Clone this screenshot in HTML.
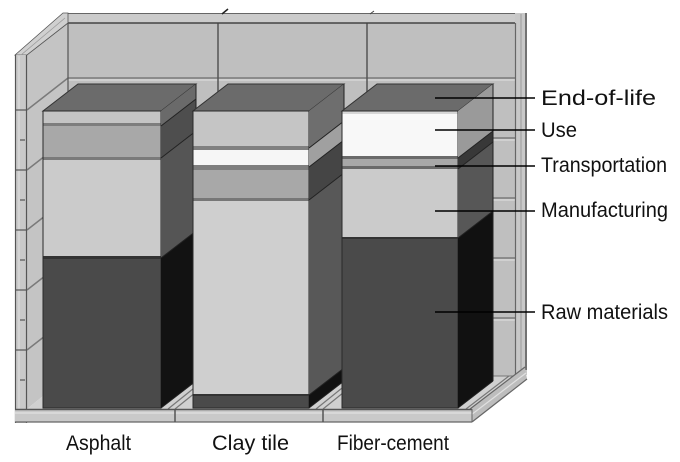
<!DOCTYPE html>
<html>
<head>
<meta charset="utf-8">
<style>
  html, body { margin: 0; padding: 0; background: #ffffff; }
  svg { display: block; }
  text { font-family: "Liberation Sans", "DejaVu Sans", sans-serif; font-size: 21px; fill: #111; }
</style>
</head>
<body>
<svg width="680" height="462" viewBox="0 0 680 462" xmlns="http://www.w3.org/2000/svg">
  <rect width="680" height="462" fill="#ffffff"/>

  <!-- Back wall face -->
  <rect x="68" y="23" width="447" height="353" fill="#bfbfbf"/>
  <g stroke-width="1.5">
    <line x1="68" y1="78" x2="515" y2="78" stroke="#7a7a7a"/>
    <line x1="68" y1="80" x2="515" y2="80" stroke="#d6d6d6"/>
    <line x1="68" y1="138" x2="515" y2="138" stroke="#7a7a7a"/>
    <line x1="68" y1="140" x2="515" y2="140" stroke="#d6d6d6"/>
    <line x1="68" y1="198" x2="515" y2="198" stroke="#7a7a7a"/>
    <line x1="68" y1="200" x2="515" y2="200" stroke="#d6d6d6"/>
    <line x1="68" y1="258" x2="515" y2="258" stroke="#7a7a7a"/>
    <line x1="68" y1="260" x2="515" y2="260" stroke="#d6d6d6"/>
    <line x1="68" y1="318" x2="515" y2="318" stroke="#7a7a7a"/>
    <line x1="68" y1="320" x2="515" y2="320" stroke="#d6d6d6"/>
  </g>
  <line x1="218" y1="13" x2="218" y2="376" stroke="#555" stroke-width="1.5"/>
  <line x1="367" y1="13" x2="367" y2="376" stroke="#555" stroke-width="1.5"/>

  <!-- Back wall top strip -->
  <rect x="63" y="13" width="464" height="10" fill="#cbcbcb"/>
  <line x1="63" y1="13.5" x2="527" y2="13.5" stroke="#666" stroke-width="1"/>
  <line x1="68" y1="23" x2="515" y2="23" stroke="#444" stroke-width="1.5"/>
  <line x1="222" y1="14" x2="228" y2="9" stroke="#222" stroke-width="1.5"/>
  <line x1="370" y1="14" x2="374" y2="11" stroke="#444" stroke-width="1"/>

  <!-- Back wall right strip -->
  <rect x="515" y="13" width="12" height="362" fill="#c8c8c8"/>
  <line x1="515.5" y1="23" x2="515.5" y2="376" stroke="#666" stroke-width="1.2"/>
  <line x1="521" y1="14" x2="521" y2="372" stroke="#9a9a9a" stroke-width="1"/>
  <line x1="526" y1="13" x2="526" y2="370" stroke="#555" stroke-width="1.5"/>

  <!-- Left wall face -->
  <polygon points="27,55 68,23 68,376 27,409" fill="#c4c4c4"/>
  <g stroke-width="1.5">
    <line x1="27" y1="110" x2="68" y2="78" stroke="#7a7a7a"/>
    <line x1="27" y1="170" x2="68" y2="138" stroke="#7a7a7a"/>
    <line x1="27" y1="230" x2="68" y2="198" stroke="#7a7a7a"/>
    <line x1="27" y1="290" x2="68" y2="258" stroke="#7a7a7a"/>
    <line x1="27" y1="350" x2="68" y2="318" stroke="#7a7a7a"/>
  </g>
  <line x1="68" y1="23" x2="68" y2="376" stroke="#555" stroke-width="1.2"/>

  <!-- Left wall top strip -->
  <polygon points="15,55 63,13 68,13 68,23 27,55" fill="#d0d0d0" stroke="#555" stroke-width="0.8"/>
  <line x1="21" y1="55" x2="65" y2="18" stroke="#9a9a9a" stroke-width="0.8"/>

  <!-- Left wall front strip -->
  <rect x="15" y="55" width="12" height="368" fill="#c9c9c9"/>
  <line x1="15.5" y1="55" x2="15.5" y2="423" stroke="#555" stroke-width="1.2"/>
  <line x1="26.5" y1="55" x2="26.5" y2="423" stroke="#555" stroke-width="1.2"/>
  <line x1="19" y1="56" x2="19" y2="422" stroke="#e0e0e0" stroke-width="1"/>
  <g stroke="#555" stroke-width="1.2">
    <line x1="15" y1="110" x2="27" y2="110"/>
    <line x1="15" y1="170" x2="27" y2="170"/>
    <line x1="15" y1="230" x2="27" y2="230"/>
    <line x1="15" y1="290" x2="27" y2="290"/>
    <line x1="15" y1="350" x2="27" y2="350"/>
    <line x1="20" y1="140" x2="25" y2="140"/>
    <line x1="20" y1="200" x2="25" y2="200"/>
    <line x1="20" y1="260" x2="25" y2="260"/>
    <line x1="20" y1="320" x2="25" y2="320"/>
    <line x1="20" y1="380" x2="25" y2="380"/>
  </g>

  <!-- Floor top face -->
  <polygon points="27,409 470,409 513,376 68,376" fill="#d0d0d0"/>
  <line x1="68" y1="376" x2="513" y2="376" stroke="#777" stroke-width="1"/>
  <g stroke="#777" stroke-width="1.2">
    <line x1="175" y1="409" x2="216" y2="376"/>
    <line x1="168" y1="409" x2="209" y2="376"/>
    <line x1="323" y1="409" x2="364" y2="376"/>
    <line x1="316" y1="409" x2="357" y2="376"/>
    <line x1="466" y1="409" x2="509" y2="376"/>
  </g>

  <!-- Floor right side -->
  <polygon points="470,409 525,367 527,379 472,422" fill="#bdbdbd"/>
  <line x1="470" y1="409" x2="525" y2="367" stroke="#666" stroke-width="1.2"/>
  <line x1="471" y1="415" x2="526" y2="373" stroke="#e0e0e0" stroke-width="1.2"/>
  <line x1="472" y1="422" x2="527" y2="379" stroke="#666" stroke-width="1.2"/>

  <!-- Floor front slab -->
  <rect x="15" y="409" width="457" height="13" fill="#c9c9c9"/>
  <line x1="15" y1="409.5" x2="472" y2="409.5" stroke="#555" stroke-width="1.5"/>
  <line x1="15" y1="413" x2="472" y2="413" stroke="#e2e2e2" stroke-width="1.2"/>
  <line x1="15" y1="422" x2="472" y2="422" stroke="#666" stroke-width="1.2"/>
  <line x1="472" y1="409" x2="472" y2="422" stroke="#666" stroke-width="1"/>
  <line x1="175" y1="409" x2="175" y2="422" stroke="#555" stroke-width="1.5"/>
  <line x1="323" y1="409" x2="323" y2="422" stroke="#555" stroke-width="1.5"/>

  <!-- ===== Bar 1: Asphalt ===== -->
  <g>
    <polygon points="43,111 161,111 196,84 78,84" fill="#6b6b6b" stroke="#333" stroke-width="1"/>
    <rect x="43" y="111" width="118" height="12" fill="#c4c4c4"/>
    <rect x="43" y="123" width="118" height="3" fill="#7d7d7d"/>
    <rect x="43" y="126" width="118" height="31" fill="#a8a8a8"/>
    <rect x="43" y="157" width="118" height="3" fill="#7a7a7a"/>
    <rect x="43" y="160" width="118" height="96" fill="#cbcbcb"/>
    <rect x="43" y="256" width="118" height="3" fill="#333"/>
    <rect x="43" y="259" width="118" height="149" fill="#4a4a4a"/>
    <rect x="43" y="111" width="118" height="297" fill="none" stroke="#2a2a2a" stroke-width="1"/>
    <polygon points="161,111 196,84 196,99 161,126" fill="#6a6a6a"/>
    <polygon points="161,126 196,99 196,131 161,158" fill="#4e4e4e"/>
    <polygon points="161,158 196,131 196,231 161,258" fill="#555555"/>
    <polygon points="161,258 196,231 196,381 161,408" fill="#121212"/>
    <g stroke="#222" stroke-width="1">
      <line x1="161" y1="126" x2="196" y2="99"/>
      <line x1="161" y1="158" x2="196" y2="131"/>
      <line x1="161" y1="258" x2="196" y2="231"/>
      <line x1="161" y1="408" x2="196" y2="381"/>
      <line x1="196" y1="84" x2="196" y2="381"/>
    </g>
  </g>

  <!-- ===== Bar 2: Clay tile ===== -->
  <g>
    <polygon points="193,111 309,111 344,84 228,84" fill="#6b6b6b" stroke="#333" stroke-width="1"/>
    <rect x="193" y="111" width="116" height="35" fill="#c5c5c5"/>
    <rect x="193" y="146" width="116" height="4" fill="#808080"/>
    <rect x="193" y="150" width="116" height="15" fill="#f6f6f6"/>
    <rect x="193" y="165" width="116" height="5" fill="#7e7e7e"/>
    <rect x="193" y="170" width="116" height="28" fill="#a8a8a8"/>
    <rect x="193" y="198" width="116" height="3" fill="#777"/>
    <rect x="193" y="201" width="116" height="193" fill="#cfcfcf"/>
    <rect x="193" y="394" width="116" height="2" fill="#333"/>
    <rect x="193" y="396" width="116" height="12" fill="#4a4a4a"/>
    <rect x="193" y="111" width="116" height="297" fill="none" stroke="#2a2a2a" stroke-width="1"/>
    <polygon points="309,111 344,84 344,121 309,148" fill="#6e6e6e"/>
    <polygon points="309,148 344,121 344,140 309,167" fill="#a0a0a0"/>
    <polygon points="309,167 344,140 344,173 309,200" fill="#454545"/>
    <polygon points="309,200 344,173 344,368 309,395" fill="#585858"/>
    <polygon points="309,395 344,368 344,381 309,408" fill="#111111"/>
    <g stroke="#222" stroke-width="1">
      <line x1="309" y1="148" x2="344" y2="121"/>
      <line x1="309" y1="167" x2="344" y2="140"/>
      <line x1="309" y1="200" x2="344" y2="173"/>
      <line x1="309" y1="395" x2="344" y2="368"/>
      <line x1="309" y1="408" x2="344" y2="381"/>
      <line x1="344" y1="84" x2="344" y2="381"/>
    </g>
  </g>

  <!-- ===== Bar 3: Fiber-cement ===== -->
  <g>
    <polygon points="342,111 458,111 493,84 377,84" fill="#6b6b6b" stroke="#333" stroke-width="1"/>
    <rect x="342" y="111" width="116" height="45" fill="#f8f8f8"/>
    <rect x="342" y="111" width="116" height="3" fill="#d6d6d6"/>
    <rect x="342" y="156" width="116" height="3" fill="#6a6a6a"/>
    <rect x="342" y="159" width="116" height="7" fill="#a8a8a8"/>
    <rect x="342" y="166" width="116" height="3" fill="#6a6a6a"/>
    <rect x="342" y="169" width="116" height="68" fill="#cbcbcb"/>
    <rect x="342" y="237" width="116" height="2" fill="#333"/>
    <rect x="342" y="239" width="116" height="169" fill="#4a4a4a"/>
    <rect x="342" y="111" width="116" height="297" fill="none" stroke="#2a2a2a" stroke-width="1"/>
    <polygon points="458,111 493,84 493,131 458,158" fill="#9a9a9a"/>
    <polygon points="458,158 493,131 493,142 458,169" fill="#383838"/>
    <polygon points="458,169 493,142 493,211 458,238" fill="#575757"/>
    <polygon points="458,238 493,211 493,381 458,408" fill="#111111"/>
    <g stroke="#222" stroke-width="1">
      <line x1="458" y1="158" x2="493" y2="131"/>
      <line x1="458" y1="169" x2="493" y2="142"/>
      <line x1="458" y1="238" x2="493" y2="211"/>
      <line x1="458" y1="408" x2="493" y2="381"/>
      <line x1="493" y1="84" x2="493" y2="381"/>
    </g>
  </g>

  <!-- Leader lines -->
  <g stroke="#000" stroke-width="1.5">
    <line x1="435" y1="98" x2="535" y2="98"/>
    <line x1="435" y1="130" x2="535" y2="130"/>
    <line x1="435" y1="166" x2="535" y2="166"/>
    <line x1="435" y1="211" x2="535" y2="211"/>
    <line x1="435" y1="312" x2="535" y2="312"/>
  </g>

  <!-- Legend labels -->
  <text x="541" y="105" textLength="115" lengthAdjust="spacingAndGlyphs">End-of-life</text>
  <text x="541" y="137" textLength="36" lengthAdjust="spacingAndGlyphs">Use</text>
  <text x="541" y="172" textLength="126" lengthAdjust="spacingAndGlyphs">Transportation</text>
  <text x="541" y="217" textLength="127" lengthAdjust="spacingAndGlyphs">Manufacturing</text>
  <text x="541" y="319" textLength="127" lengthAdjust="spacingAndGlyphs">Raw materials</text>

  <!-- Category labels -->
  <text x="66" y="450" textLength="65" lengthAdjust="spacingAndGlyphs">Asphalt</text>
  <text x="212" y="450" textLength="77" lengthAdjust="spacingAndGlyphs">Clay tile</text>
  <text x="337" y="450" textLength="112" lengthAdjust="spacingAndGlyphs">Fiber-cement</text>
</svg>
</body>
</html>
